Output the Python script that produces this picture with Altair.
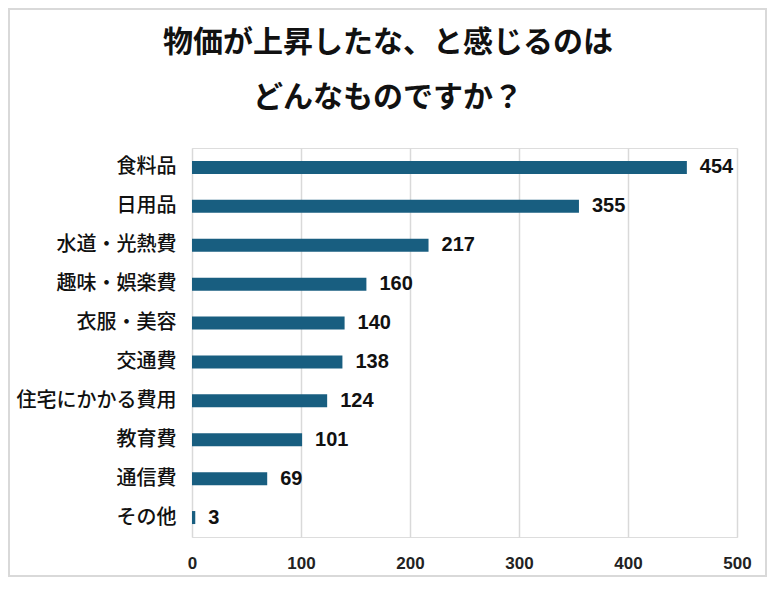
import altair as alt
import pandas as pd

title_lines = ["物価が上昇したな、と感じるのは", "どんなものですか？"]
categories = ["食料品", "日用品", "水道・光熱費", "趣味・娯楽費", "衣服・美容",
              "交通費", "住宅にかかる費用", "教育費", "通信費", "その他"]
values = [454, 355, 217, 160, 140, 138, 124, 101, 69, 3]
x_ticks = [0, 100, 200, 300, 400, 500]

df = pd.DataFrame({"category": categories, "value": values})

W, H = 545, 389
PL, PT, PR, PB = 184, 140, 30, 40

ycat = alt.Y("category:N", sort=categories, title=None,
             scale=alt.Scale(paddingInner=0.666, paddingOuter=0.333),
             axis=alt.Axis(domain=False, ticks=False, labelFont="Noto Sans CJK JP",
                           labelFontSize=20, labelFontWeight=500,
                           labelColor="#111111", labelPadding=16, grid=False))
xval = alt.X("value:Q", title=None,
             scale=alt.Scale(domain=[0, 500], nice=False),
             axis=alt.Axis(values=x_ticks, domain=False, ticks=False, labelFlush=False,
                           labelFont="Liberation Sans", labelFontWeight="bold",
                           labelFontSize=17, labelColor="#222222", labelPadding=18,
                           grid=True, gridColor="#d9d9d9", gridWidth=1.5))

bars = alt.Chart(df).mark_bar(color="#185e80").encode(x=xval, y=ycat)

labels = alt.Chart(df).mark_text(
    align="left", baseline="middle", dx=13, font="Liberation Sans",
    fontWeight="bold", fontSize=20, color="#111111"
).encode(x="value:Q", y=alt.Y("category:N", sort=categories), text="value:Q")

title_style = dict(align="center", baseline="middle", font="Noto Sans CJK JP",
                   fontWeight="bold", fontSize=30, color="#111111")
title1 = alt.Chart(pd.DataFrame({"line": [title_lines[0]]})).mark_text(**title_style).encode(
    x=alt.value(196), y=alt.value(-105), text="line:N")
title2 = alt.Chart(pd.DataFrame({"line": [title_lines[1]]})).mark_text(**title_style).encode(
    x=alt.value(196), y=alt.value(-50), text="line:N")

frame = alt.Chart(pd.DataFrame({"a": [0]})).mark_rect(
    fill=None, stroke="#d9d9d9", strokeWidth=2, clip=False
).encode(
    x=alt.value(-PL + 1), x2=alt.value(W + PR - 1),
    y=alt.value(-PT + 1), y2=alt.value(H + PB - 1),
)

chart = alt.layer(frame, bars, labels, title1, title2).properties(
    width=W, height=H,
    autosize=alt.AutoSizeParams(type="none"),
    padding={"left": PL, "top": PT, "right": PR, "bottom": PB},
).configure_view(stroke=None).configure(background="white")

chart.save("out.html", embed_options={"renderer": "svg", "actions": False})
